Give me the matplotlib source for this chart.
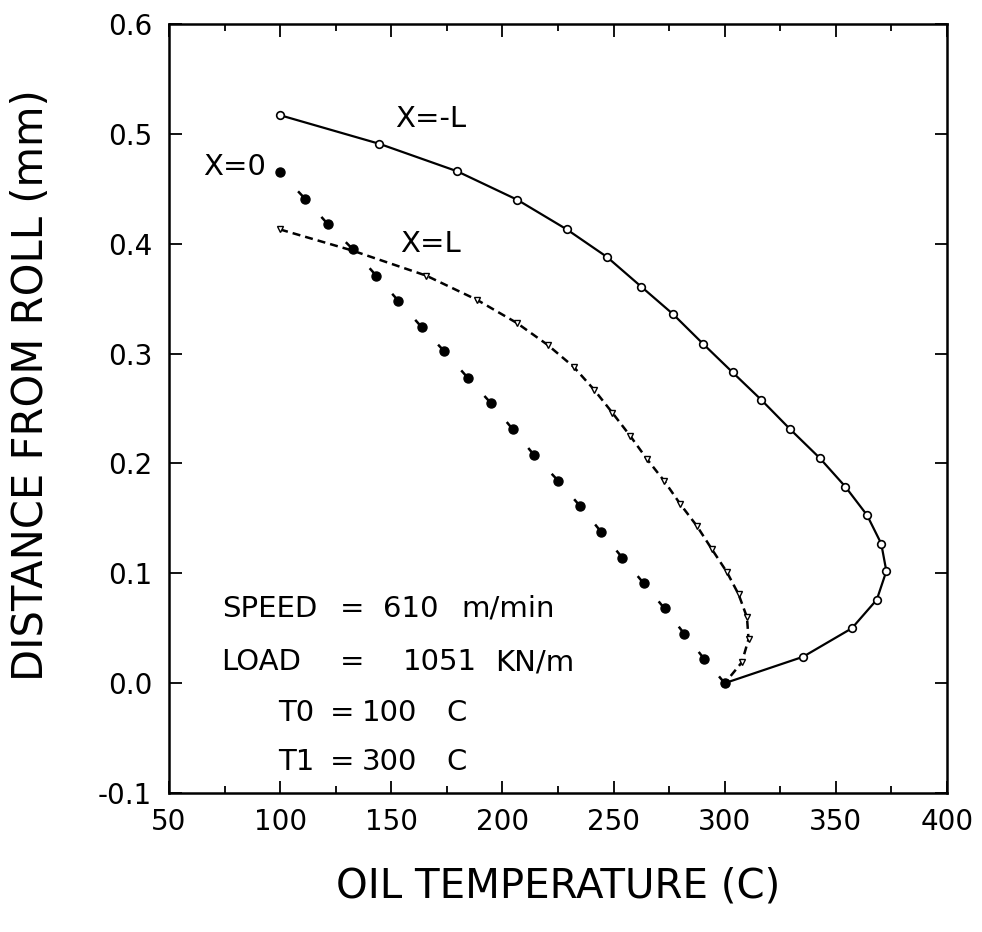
import matplotlib
matplotlib.use("Agg")
import matplotlib.pyplot as plt

# X=-L curve (solid, open circles)
temp_minus_l = [100, 144.6, 179.6, 206.7, 229, 247, 262.4, 276.7, 290.2, 303.5, 316.4,
                329.5, 342.7, 354.2, 364, 370.4, 372.7, 368.4, 357.2, 335.2, 300]
dist_minus_l = [0.517, 0.491, 0.466, 0.440, 0.413, 0.388, 0.361, 0.336, 0.309, 0.283, 0.258,
                0.231, 0.205, 0.179, 0.153, 0.127, 0.102, 0.076, 0.050, 0.024, 0.0]

# X=0 curve (filled dots)
temp_zero = [100, 111.2, 121.4, 132.7, 143.2, 153.2, 163.7, 173.9, 184.4, 194.8, 204.7,
             214.3, 225.2, 235.0, 244.3, 254.0, 263.5, 272.9, 281.8, 290.8, 300]
dist_zero = [0.465, 0.441, 0.418, 0.395, 0.371, 0.348, 0.324, 0.302, 0.278, 0.255, 0.231,
             0.2075, 0.184, 0.161, 0.138, 0.114, 0.091, 0.068, 0.045, 0.022, 0.0]

# X=L curve (dashed, small triangles)
temp_plus_l = [100, 132.2, 165.7, 188.5, 206.4, 220.3, 232, 241.3, 249.5, 257.5, 265,
               272.8, 280, 287.5, 294.2, 301, 306.2, 310, 310.7, 307.7, 300]
dist_plus_l = [0.413, 0.394, 0.371, 0.349, 0.328, 0.308, 0.288, 0.267, 0.246, 0.225, 0.204,
               0.184, 0.163, 0.143, 0.122, 0.101, 0.081, 0.060, 0.040, 0.019, 0.0]

x_ticks = [50, 100, 150, 200, 250, 300, 350, 400]
y_ticks = [-0.1, 0.0, 0.1, 0.2, 0.3, 0.4, 0.5, 0.6]

fig = plt.figure(figsize=(9.82, 9.32), dpi=100)
ax = fig.add_axes([0.1721, 0.1491, 0.7923, 0.8251])

ax.plot(temp_minus_l, dist_minus_l, color="black", lw=1.6, marker="o", ms=5.5,
        mfc="white", mec="black", mew=1.2)

ax.plot(temp_plus_l, dist_plus_l, color="black", lw=1.8, ls=(0, (3.2, 2.0)),
        marker="v", ms=5, mfc="white", mec="black", mew=1.0)

# X=0: dots with a short tail pointing back to the previous point
ax.plot(temp_zero, dist_zero, ls="none", marker="o", ms=6.5, color="black")
for i in range(1, len(temp_zero)):
    x0, y0 = temp_zero[i], dist_zero[i]
    x1 = x0 + 0.28 * (temp_zero[i - 1] - x0)
    y1 = y0 + 0.28 * (dist_zero[i - 1] - y0)
    ax.plot([x0, x1], [y0, y1], color="black", lw=1.8, solid_capstyle="butt")

fs = 21
ax.text(151.7, 0.5064, "X=-L", fontsize=fs)
ax.text(65.3, 0.4624, "X=0", fontsize=fs)
ax.text(153.9, 0.3926, "X=L", fontsize=fs)

# parameter block, words spread out like the original lettering
def spread(words, xs, y):
    for w, xw in zip(words, xs):
        ax.text(xw, y, w, fontsize=fs)

spread(["SPEED", "=", "610", "m/min"], [73.7, 127, 146.3, 181.7], 0.0604)
spread(["LOAD", "=", "1051", "KN/m"], [73.4, 127, 155, 196.8], 0.0118)
spread(["T0", "=", "100", "C"], [99, 122.5, 136.7, 175], -0.0343)
spread(["T1", "=", "300", "C"], [99, 122.5, 136.7, 175], -0.0790)

ax.set_xlim(50, 400)
ax.set_ylim(-0.1, 0.6)
ax.set_xticks(x_ticks)
ax.set_xticks(range(75, 400, 50), minor=True)
ax.set_yticks(y_ticks)
ax.set_yticklabels([f"{v:.1f}" for v in y_ticks])
ax.tick_params(which="both", direction="in", top=True, right=True, width=1.3,
               labelsize=20)
ax.tick_params(which="major", length=9)
ax.tick_params(which="minor", length=5)
ax.tick_params(axis="x", pad=11)
ax.tick_params(axis="y", pad=12)
for s in ax.spines.values():
    s.set_linewidth(1.8)

ax.set_xlabel("OIL TEMPERATURE (C)", fontsize=29, labelpad=22)
ax.set_ylabel("DISTANCE FROM ROLL (mm)", fontsize=30)
ax.yaxis.set_label_coords(-0.15, 0.53)

fig.savefig("out.png", dpi=100)
